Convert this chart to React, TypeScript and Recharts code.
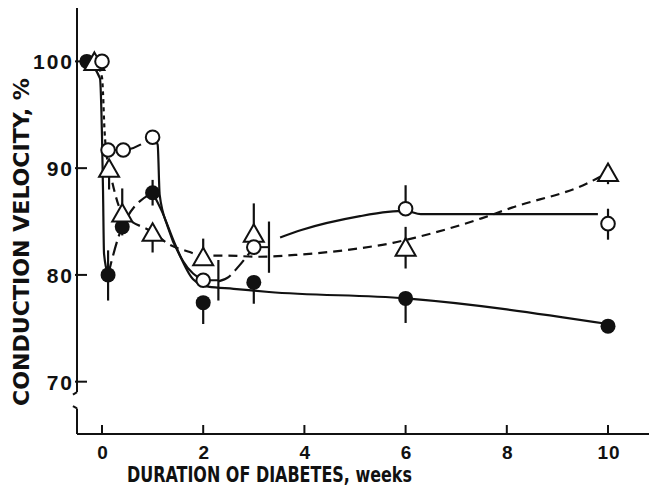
import React from "react";
import {
  ComposedChart,
  Line,
  Scatter,
  ErrorBar,
  XAxis,
  YAxis,
  ReferenceLine,
} from "recharts";

// measured points (weeks, % of control)
const filledWeeks = [-0.3, 0.12, 0.4, 1, 2, 3, 6, 10];
const filledVel = [100, 80, 84.5, 87.7, 77.4, 79.3, 77.8, 75.2];
const filledErrLow = [0, 2.4, 0.8, 1.2, 2.0, 2.0, 2.3, 0.6];
const filledErrHigh = [0, 2.3, 0.8, 1.2, 0.6, 0.6, 0.5, 0.6];

const openWeeks = [0, 0.12, 0.42, 1, 2, 3, 6, 10];
const openVel = [100, 91.7, 91.7, 92.9, 79.5, 82.6, 86.2, 84.8];
const openErrLow = [0, 0, 0, 0.6, 0, 0, 0.5, 1.5];
const openErrHigh = [0, 0, 0, 0.6, 0, 0, 2.2, 1.4];

// SE bars drawn beside the open circles at 2 and 3 weeks
const openSideWeeks = [2.3, 3.3];
const openSideVel = [79.5, 82.6];
const openSideErr = [1.9, 2.4];

const triWeeks = [-0.15, 0.14, 0.4, 1, 2, 3, 6, 10];
const triVel = [100, 90, 85.8, 84, 81.7, 83.9, 82.6, 89.6];
const triErrLow = [0, 2, 0, 1.9, 0, 0, 2.0, 1.1];
const triErrHigh = [0, 0, 2.3, 0, 1.7, 2.8, 1.9, 0];

// hand drawn curves
const filledCurveA = { x: [-0.3, -0.04, 0.0, 0.02, 0.04, 0.12], y: [100, 98.4, 93, 88, 82, 80] };
const filledCurveB = { x: [0.12, 0.4, 1.0], y: [80, 84.5, 87.7] };
const filledCurveC = {
  x: [1.0, 1.18, 1.45, 1.8, 2.1, 2.6, 3.3, 6, 10],
  y: [87.7, 86, 82.8, 79.6, 78.9, 78.7, 78.4, 77.8, 75.4],
};
const openCurveB = { x: [0.12, 0.42, 1.0], y: [91.7, 91.7, 92.9] };
const openCurveC = {
  x: [1.0, 1.1, 1.14, 1.3, 1.6, 2.0],
  y: [92.9, 92.2, 87.5, 84.5, 81.3, 79.5],
};
const openCurveD = { x: [2.3, 2.5, 2.7, 3.0], y: [79.4, 79.8, 80.8, 82.6] };
const openCurveE = {
  x: [3.52, 3.94, 5.1, 5.65, 6.0, 6.3, 9.8],
  y: [83.5, 84.2, 85.5, 85.9, 86.0, 85.7, 85.7],
};
const triCurveA = { x: [-0.15, 0.0, 0.02, 0.05, 0.14], y: [100, 98.5, 97, 93.5, 90] };
const triCurveB = {
  x: [0.14, 0.4, 1.0, 1.35, 1.7, 2.0, 2.5, 3.1, 3.9, 5.1, 5.75, 6.2, 7.5, 8.1, 9.6, 10],
  y: [90, 85.8, 84, 82.8, 82.2, 81.8, 81.8, 81.7, 81.9, 82.5, 83, 83.5, 85.3, 86.3, 88.6, 89.6],
};

const xTicks = [0, 2, 4, 6, 8, 10];
const yTicks = [70, 80, 90, 100];

const X_MIN = -0.494;
const X_MAX = 10.81;
const Y_MIN = 65.1;
const Y_MAX = 105;

const toPts = (c: { x: number[]; y: number[] }) => c.x.map((x, i) => ({ x, v: c.y[i] }));
const toMarks = (xs: number[], ys: number[], lo: number[], hi: number[]) =>
  xs.map((x, i) => ({ x, y: ys[i], err: [lo[i], hi[i]] }));

const filledData = toMarks(filledWeeks, filledVel, filledErrLow, filledErrHigh);
const openData = toMarks(openWeeks, openVel, openErrLow, openErrHigh);
const triData = toMarks(triWeeks, triVel, triErrLow, triErrHigh);
const sideData = openSideWeeks.map((x, i) => ({ x, y: openSideVel[i], err: openSideErr[i] }));

const INK = "#111";
const numFont = "'Liberation Sans', Arial, sans-serif";
const titleFont = "'DejaVu Sans Condensed', 'DejaVu Sans', sans-serif";

const XTick = (props: any) => {
  const { x, y, payload } = props;
  return (
    <g>
      <line x1={x} x2={x} y1={y} y2={y - 9} stroke={INK} strokeWidth={2} />
      <text x={x + 1} y={y + 25} textAnchor="middle" fontSize={19} fontWeight="bold" fontFamily={numFont} letterSpacing={1} fill={INK}>
        {payload.value}
      </text>
    </g>
  );
};

const YTick = (props: any) => {
  const { x, y, payload } = props;
  return (
    <g>
      <line x1={x - 2} x2={x + 10} y1={y} y2={y} stroke={INK} strokeWidth={2} />
      <text x={x - 3} y={y + 8} textAnchor="end" fontSize={21} fontWeight="bold" fontFamily={numFont} letterSpacing={2} fill={INK}>
        {payload.value}
      </text>
    </g>
  );
};

const FilledDot = (p: any) => <circle cx={p.cx} cy={p.cy} r={7.5} fill={INK} />;
const OpenDot = (p: any) => <circle cx={p.cx} cy={p.cy} r={6.8} fill="#fff" stroke={INK} strokeWidth={2} />;
const TriDot = (p: any) => (
  <path
    d={`M${p.cx},${p.cy - 9} L${p.cx + 10},${p.cy + 8.5} L${p.cx - 10},${p.cy + 8.5} Z`}
    fill="#fff"
    stroke={INK}
    strokeWidth={2}
    strokeLinejoin="miter"
  />
);
const NoDot = () => <g />;

const curve = (c: { x: number[]; y: number[] }, key: string, dash?: string) => (
  <Line
    key={key}
    data={toPts(c)}
    dataKey="v"
    type="monotone"
    stroke={INK}
    strokeWidth={2.2}
    strokeDasharray={dash}
    dot={false}
    activeDot={false}
    isAnimationActive={false}
    legendType="none"
  />
);

export default function App() {
  return (
    <div style={{ position: "absolute", left: 0, top: 0, width: 649, height: 489, background: "#fff" }}>
      <ComposedChart width={649} height={489} margin={{ top: 8, right: 0, bottom: 0, left: 0 }}>
        <XAxis
          type="number"
          dataKey="x"
          domain={[X_MIN, X_MAX]}
          ticks={xTicks}
          interval={0}
          allowDataOverflow
          height={55}
          tickSize={0}
          tickMargin={0}
          tickLine={false}
          axisLine={{ stroke: INK, strokeWidth: 2 }}
          tick={<XTick />}
        />
        <YAxis
          type="number"
          domain={[Y_MIN, Y_MAX]}
          ticks={yTicks}
          interval={0}
          allowDataOverflow
          width={77}
          tickSize={0}
          tickMargin={0}
          tickLine={false}
          axisLine={false}
          tick={<YTick />}
        />

        {/* broken y axis */}
        <ReferenceLine segment={[{ x: X_MIN, y: Y_MAX }, { x: X_MIN, y: 69.03 }]} stroke={INK} strokeWidth={2} ifOverflow="visible" />
        <ReferenceLine segment={[{ x: X_MIN, y: 69.03 }, { x: X_MIN - 0.08, y: 68.78 }]} stroke={INK} strokeWidth={2} ifOverflow="visible" />
        <ReferenceLine segment={[{ x: X_MIN, y: 67.5 }, { x: X_MIN, y: Y_MIN }]} stroke={INK} strokeWidth={2} ifOverflow="visible" />
        <ReferenceLine segment={[{ x: X_MIN, y: 67.5 }, { x: X_MIN - 0.08, y: 67.72 }]} stroke={INK} strokeWidth={2} ifOverflow="visible" />

        {curve(filledCurveA, "fA")}
        {curve(filledCurveB, "fB", "14 6")}
        {curve(filledCurveC, "fC")}
        {curve(openCurveB, "oB", "14 6")}
        {curve(openCurveC, "oC")}
        {curve(openCurveD, "oD", "14 6")}
        {curve(openCurveE, "oE")}
        {curve(triCurveA, "tA", "4 4")}
        {curve(triCurveB, "tB", "9 6")}

        {/* connectors from open circles to their side SE bars */}
        {openSideWeeks.map((x, i) => (
          <ReferenceLine
            key={`c${i}`}
            segment={[{ x: openWeeks[4 + i], y: openSideVel[i] }, { x, y: openSideVel[i] }]}
            stroke={INK}
            strokeWidth={2}
          />
        ))}

        <Scatter data={sideData} dataKey="y" shape={<NoDot />} isAnimationActive={false}>
          <ErrorBar dataKey="err" direction="y" width={0} stroke={INK} strokeWidth={2.2} />
        </Scatter>
        <Scatter data={filledData} dataKey="y" shape={<FilledDot />} isAnimationActive={false}>
          <ErrorBar dataKey="err" direction="y" width={0} stroke={INK} strokeWidth={2.2} />
        </Scatter>
        <Scatter data={triData} dataKey="y" shape={<TriDot />} isAnimationActive={false}>
          <ErrorBar dataKey="err" direction="y" width={0} stroke={INK} strokeWidth={2.2} />
        </Scatter>
        <Scatter data={openData} dataKey="y" shape={<OpenDot />} isAnimationActive={false}>
          <ErrorBar dataKey="err" direction="y" width={0} stroke={INK} strokeWidth={2.2} />
        </Scatter>
      </ComposedChart>

      <svg width={649} height={489} style={{ position: "absolute", left: 0, top: 0, pointerEvents: "none" }}>
        <text
          x={127}
          y={482}
          fontSize={22}
          fontWeight="bold"
          fontFamily={titleFont}
          fill={INK}
          textLength={285}
          lengthAdjust="spacingAndGlyphs"
        >
          DURATION OF DIABETES, weeks
        </text>
        <text
          transform="translate(29,242) rotate(-90)"
          textAnchor="middle"
          fontSize={22}
          fontWeight="bold"
          fontFamily={titleFont}
          fill={INK}
          textLength={328}
          lengthAdjust="spacingAndGlyphs"
        >
          CONDUCTION VELOCITY, %
        </text>
      </svg>
    </div>
  );
}
